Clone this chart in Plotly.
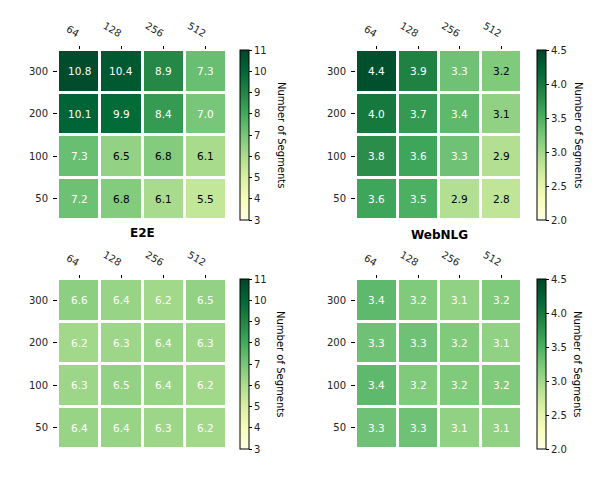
import plotly.graph_objects as go

cols = ["64", "128", "256", "512"]
rows = ["300", "200", "100", "50"]

e2e_top = [[10.8, 10.4, 8.9, 7.3],
           [10.1, 9.9, 8.4, 7.0],
           [7.3, 6.5, 6.8, 6.1],
           [7.2, 6.8, 6.1, 5.5]]
web_top = [[4.4, 3.9, 3.3, 3.2],
           [4.0, 3.7, 3.4, 3.1],
           [3.8, 3.6, 3.3, 2.9],
           [3.6, 3.5, 2.9, 2.8]]
e2e_bot = [[6.6, 6.4, 6.2, 6.5],
           [6.2, 6.3, 6.4, 6.3],
           [6.3, 6.5, 6.4, 6.2],
           [6.4, 6.4, 6.3, 6.2]]
web_bot = [[3.4, 3.2, 3.1, 3.2],
           [3.3, 3.3, 3.2, 3.1],
           [3.4, 3.2, 3.2, 3.2],
           [3.3, 3.3, 3.1, 3.1]]

# annotation text colours ("w" white, "k" black)
e2e_top_tc = [["w", "w", "w", "w"], ["w", "w", "w", "w"], ["w", "k", "k", "k"], ["w", "k", "k", "k"]]
web_top_tc = [["w", "w", "w", "k"], ["w", "w", "w", "k"], ["w", "w", "w", "k"], ["w", "w", "k", "k"]]
e2e_bot_tc = [["w"] * 4 for _ in range(4)]
web_bot_tc = [["w"] * 4 for _ in range(4)]

YlGn = [[0.0, "#ffffe5"], [0.125, "#f7fcb9"], [0.25, "#d9f0a3"], [0.375, "#addd8e"],
        [0.5, "#78c679"], [0.625, "#41ab5d"], [0.75, "#238443"], [0.875, "#006837"],
        [1.0, "#004529"]]

W, H = 616, 489
FONT = "DejaVu Sans"

def px(x):
    return x / W

def py(y):
    return 1 - y / H

panels = [
    # data, textcolors, zmin, zmax, dtick, fmt, x0, x1, y0, y1, cbx
    (e2e_top, e2e_top_tc, 3, 11, 1, "d", 58, 227, 50, 220, 240),
    (web_top, web_top_tc, 2, 4.5, 0.5, ".1f", 356, 522, 50, 220, 537),
    (e2e_bot, e2e_bot_tc, 3, 11, 1, "d", 58, 227, 279, 449, 240),
    (web_bot, web_bot_tc, 2, 4.5, 0.5, ".1f", 356, 522, 279, 449, 537),
]

fig = go.Figure()
annotations = []
for i, (z, tc, zmin, zmax, dt, fmt, x0, x1, y0, y1, cbx) in enumerate(panels):
    n = "" if i == 0 else str(i + 1)
    fig.add_trace(go.Heatmap(
        z=z, x=cols, y=rows, zmin=zmin, zmax=zmax, colorscale=YlGn,
        xgap=3, ygap=3, xaxis="x" + n, yaxis="y" + n, hoverinfo="skip",
        colorbar=dict(
            x=px(cbx), xanchor="left", xpad=0, ypad=0,
            y=py((y0 + y1) / 2), yanchor="middle",
            len=(y1 - y0) / H, lenmode="fraction", thickness=9,
            outlinewidth=1, outlinecolor="black",
            tickmode="linear", tick0=zmin, dtick=dt, tickformat=fmt,
            ticks="outside", ticklen=3, tickwidth=1, tickcolor="black",
            tickfont=dict(family=FONT, size=10, color="#222"),
        ),
    ))
    fig.update_layout(**{
        "xaxis" + n: dict(type="category", categoryorder="array", categoryarray=cols,
                          domain=[px(x0), px(x1)], anchor="y" + n, side="top",
                          tickangle=30, ticks="outside", ticklen=3, tickcolor="black",
                          ticklabelstandoff=4,
                          tickfont=dict(family=FONT, size=10, color="#222"),
                          showgrid=False, zeroline=False, showline=False),
        "yaxis" + n: dict(type="category", categoryorder="array", categoryarray=rows,
                          domain=[py(y1), py(y0)], anchor="x" + n,
                          autorange="reversed", ticks="outside", ticklen=4,
                          tickcolor="black", ticklabelstandoff=3,
                          tickfont=dict(family=FONT, size=10, color="#222"),
                          showgrid=False, zeroline=False, showline=False),
    })
    for r, rl in enumerate(rows):
        for c, cl in enumerate(cols):
            annotations.append(dict(
                x=c, y=r, xref="x" + n, yref="y" + n, text=f"{z[r][c]:.1f}",
                showarrow=False,
                font=dict(family=FONT, size=10.5, color="white" if tc[r][c] == "w" else "black"),
            ))
    annotations.append(dict(
        x=px(cbx + 41), y=py((y0 + y1) / 2), xref="paper", yref="paper",
        xanchor="center", yanchor="middle",
        text="Number of Segments", textangle=90, showarrow=False,
        font=dict(family=FONT, size=10, color="black"),
    ))

annotations.append(dict(x=px(142), y=py(233), xref="paper", yref="paper", text="<b>E2E</b>",
                        xanchor="center", yanchor="middle",
                        showarrow=False, font=dict(family=FONT, size=12, color="black")))
annotations.append(dict(x=px(439), y=py(235), xref="paper", yref="paper", text="<b>WebNLG</b>",
                        xanchor="center", yanchor="middle",
                        showarrow=False, font=dict(family=FONT, size=12, color="black")))

fig.update_layout(
    width=W, height=H, margin=dict(l=0, r=0, t=0, b=0),
    paper_bgcolor="white", plot_bgcolor="white",
    annotations=annotations,
)

fig.write_html("out.html")
